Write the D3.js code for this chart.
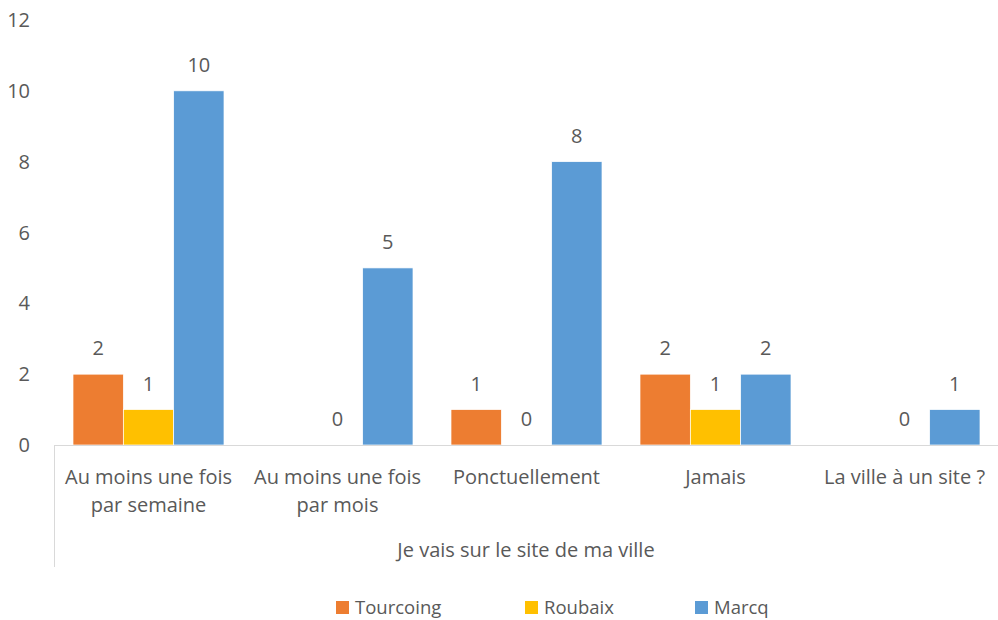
<!DOCTYPE html>
<html>
<head>
<meta charset="utf-8">
<script src="https://cdn.jsdelivr.net/npm/d3@7"></script>
<style>
  body { margin: 0; background: #fff; }
  text { font-family: "Open Sans", sans-serif; fill: #595959; }
</style>
</head>
<body>
<script>
// chart data
const categories = [
  ['Au moins une fois', 'par semaine'],
  ['Au moins une fois', 'par mois'],
  ['Ponctuellement'],
  ['Jamais'],
  ['La ville à un site ?']
];
const groupTitle = 'Je vais sur le site de ma ville';
const seriesNames = ['Tourcoing', 'Roubaix', 'Marcq'];
const tourcoing = [2, null, 1, 2, null];
const roubaix = [1, 0, 0, 1, 0];
const marcq = [10, 5, 8, 2, 1];
const yTicks = [0, 2, 4, 6, 8, 10, 12];
const colors = ['#ED7D31', '#FFC000', '#5B9BD5'];

const width = 998;
const height = 620;
const margin = { top: 20, right: 0, bottom: 175, left: 54 };
const fs = 20;

const svg = d3.select('body').append('svg')
  .attr('width', width)
  .attr('height', height);

const x0 = d3.scaleBand()
  .domain(d3.range(categories.length))
  .range([margin.left, width + 1])
  .paddingInner(0)
  .paddingOuter(0);

const x1 = d3.scaleBand()
  .domain(d3.range(seriesNames.length))
  .range([19, x0.bandwidth() - 19]);

const y = d3.scaleLinear()
  .domain([0, 12])
  .range([height - margin.bottom, margin.top]);

// y tick labels (no axis line)
svg.append('g')
  .selectAll('text')
  .data(yTicks)
  .enter().append('text')
  .attr('x', 30)
  .attr('y', d => y(d) + 7)
  .attr('text-anchor', 'end')
  .attr('font-size', fs)
  .text(d => d);

const series = [tourcoing, roubaix, marcq];
const bars = [];
series.forEach((vals, s) => {
  vals.forEach((v, i) => bars.push({ s, i, v }));
});

svg.append('g')
  .selectAll('rect')
  .data(bars.filter(d => d.v !== null))
  .enter().append('rect')
  .attr('x', d => x0(d.i) + x1(d.s))
  .attr('y', d => y(d.v))
  .attr('width', x1.bandwidth())
  .attr('height', d => y(0) - y(d.v))
  .attr('fill', d => colors[d.s])
  .attr('stroke', '#fff')
  .attr('stroke-width', 0.7);

svg.append('g')
  .selectAll('text')
  .data(bars.filter(d => d.v !== null))
  .enter().append('text')
  .attr('x', d => x0(d.i) + x1(d.s) + x1.bandwidth() / 2)
  .attr('y', d => y(d.v) - 19)
  .attr('text-anchor', 'middle')
  .attr('font-size', fs)
  .text(d => d.v);

// category axis
const base = y(0);
svg.append('line')
  .attr('x1', margin.left).attr('x2', width)
  .attr('y1', base + 0.5).attr('y2', base + 0.5)
  .attr('stroke', '#d9d9d9').attr('stroke-width', 1);
svg.append('line')
  .attr('x1', margin.left + 0.5).attr('x2', margin.left + 0.5)
  .attr('y1', base).attr('y2', 567)
  .attr('stroke', '#d9d9d9').attr('stroke-width', 1);

const catLabels = svg.append('g')
  .selectAll('text')
  .data(categories)
  .enter().append('text')
  .attr('text-anchor', 'middle')
  .attr('font-size', fs)
  .attr('transform', (d, i) => `translate(${x0(i) + x0.bandwidth() / 2},${base + 39})`);
catLabels.selectAll('tspan')
  .data(d => d)
  .enter().append('tspan')
  .attr('x', 0)
  .attr('dy', (d, j) => j === 0 ? 0 : 28)
  .text(d => d);

svg.append('text')
  .attr('x', (margin.left + width) / 2)
  .attr('y', 557)
  .attr('text-anchor', 'middle')
  .attr('font-size', fs)
  .text(groupTitle);

// legend
const legendX = [336, 525, 695];
const legend = svg.append('g')
  .selectAll('g')
  .data(seriesNames)
  .enter().append('g')
  .attr('transform', (d, i) => `translate(${legendX[i]},601)`);
legend.append('rect')
  .attr('width', 13).attr('height', 13)
  .attr('fill', (d, i) => colors[i]);
legend.append('text')
  .attr('x', 19)
  .attr('y', 13)
  .attr('font-size', 18.5)
  .text(d => d);
</script>
</body>
</html>
